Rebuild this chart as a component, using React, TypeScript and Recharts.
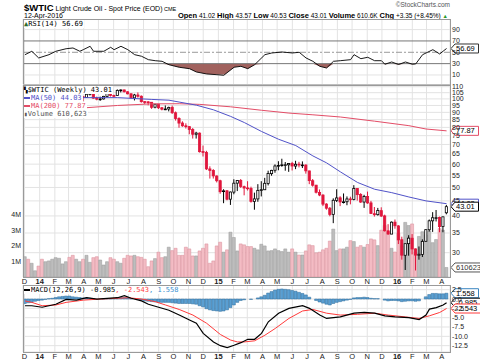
import React from "react";
import {
  Area,
  Bar,
  CartesianGrid,
  Cell,
  ComposedChart,
  Line,
  ReferenceLine,
  XAxis,
  YAxis,
} from "recharts";

// weekly bars, first bar = week of 2 Dec 2013, last = week of 11 Apr 2016
const firstWeek = "2013-12-02";

const opens = [
  92.7, 97.6, 96.6, 99.3, 100.3, 94.0, 92.7, 94.4, 96.6, 97.5,
  99.9, 100.3, 102.2, 102.6, 102.6, 98.9, 99.5, 101.7, 101.1, 103.7,
  104.3, 100.6, 99.8, 100.0, 102.0, 104.4, 102.7, 102.7, 106.9, 107.3,
  105.7, 104.1, 100.8, 103.1, 102.1, 97.9, 97.7, 97.4, 93.7, 96.0,
  93.3, 92.3, 92.4, 93.5, 89.7, 85.8, 82.8, 81.0, 80.5, 78.7,
  75.8, 76.5, 66.2, 65.8, 57.8, 57.1, 54.7, 52.7, 48.4, 48.7,
  45.6, 48.2, 51.7, 52.8, 50.3, 49.8, 49.6, 44.8, 45.7, 48.9,
  49.1, 51.6, 55.7, 57.2, 59.2, 59.4, 59.7, 59.7, 60.3, 59.1,
  60.0, 59.6, 59.6, 56.9, 52.7, 50.9, 48.1, 47.1, 43.9, 42.5,
  40.5, 45.2, 46.1, 44.6, 44.7, 45.7, 45.5, 49.6, 47.3, 44.6,
  46.6, 44.3, 40.7, 40.4, 41.7, 40.0, 35.6, 34.7, 38.1, 37.0,
  33.2, 29.4, 32.2, 33.6, 30.9, 29.4, 29.6, 32.8, 35.9, 38.5,
  39.4, 39.5, 36.8, 41.0,
];
const highs = [
  97.9, 98.6, 99.4, 100.7, 100.8, 94.5, 94.8, 97.8, 98.2, 100.0,
  101.0, 103.8, 103.2, 105.2, 102.9, 100.8, 102.0, 102.4, 104.0, 104.9,
  104.5, 101.8, 101.8, 102.4, 104.5, 104.4, 103.4, 107.7, 107.7, 107.5,
  106.2, 104.3, 104.0, 105.2, 102.8, 98.3, 98.3, 97.6, 96.1, 96.1,
  93.8, 95.0, 94.1, 94.9, 90.6, 86.6, 83.9, 82.6, 80.7, 79.6,
  77.3, 76.9, 69.4, 66.6, 59.0, 57.7, 54.9, 53.1, 49.3, 49.0,
  48.4, 53.3, 53.0, 53.4, 50.7, 52.5, 50.3, 48.0, 51.3, 52.5,
  53.9, 57.0, 57.4, 59.9, 61.4, 62.6, 61.0, 60.5, 61.1, 61.6,
  61.1, 61.3, 59.9, 57.0, 53.4, 51.0, 49.2, 47.4, 44.2, 42.9,
  45.9, 49.3, 46.7, 47.7, 46.6, 46.5, 50.9, 49.7, 47.8, 47.2,
  48.4, 45.0, 42.9, 42.6, 42.8, 40.4, 37.5, 38.3, 38.9, 37.2,
  34.0, 32.2, 34.4, 34.7, 31.0, 31.5, 33.3, 36.0, 38.9, 41.2,
  41.9, 39.8, 39.8, 43.6,
];
const lows = [
  92.3, 96.2, 95.8, 98.6, 93.6, 91.2, 91.5, 93.3, 96.0, 95.3,
  99.0, 100.1, 101.1, 101.5, 97.4, 97.9, 98.8, 98.2, 100.9, 102.7,
  100.1, 98.9, 98.5, 99.5, 101.3, 101.9, 101.6, 102.6, 105.2, 105.2,
  103.6, 100.2, 98.8, 101.0, 97.1, 96.1, 95.1, 92.5, 92.9, 92.4,
  91.4, 91.6, 90.7, 88.9, 84.4, 79.8, 80.4, 79.3, 75.8, 73.3,
  73.3, 65.7, 63.7, 57.3, 53.6, 53.6, 52.0, 47.6, 44.2, 45.2,
  43.6, 47.4, 48.6, 49.8, 47.0, 48.8, 44.4, 42.0, 44.7, 46.6,
  49.0, 50.8, 54.8, 56.1, 57.2, 58.8, 57.0, 56.5, 57.1, 57.7,
  58.5, 58.2, 55.7, 51.3, 50.3, 47.7, 46.7, 43.2, 42.0, 39.9,
  37.8, 44.6, 43.2, 44.1, 43.5, 43.8, 45.2, 45.1, 44.3, 42.6,
  44.0, 40.6, 39.8, 40.1, 39.7, 35.4, 34.5, 34.7, 36.2, 32.1,
  28.4, 26.2, 29.3, 29.6, 26.1, 28.4, 29.0, 32.7, 35.4, 35.3,
  38.3, 35.2, 35.2, 40.5,
];
const closes = [
  97.65, 96.6, 99.32, 100.32, 93.96, 92.72, 94.37, 96.64, 97.49, 99.88,
  100.3, 102.2, 102.59, 102.58, 98.89, 99.46, 101.67, 101.14, 103.74, 104.3,
  100.6, 99.76, 99.99, 102.02, 104.35, 102.71, 102.66, 106.91, 107.26, 105.74,
  104.06, 100.83, 103.13, 102.09, 97.88, 97.65, 97.35, 93.65, 95.96, 93.29,
  92.27, 92.41, 93.54, 89.74, 85.82, 82.75, 81.01, 80.54, 78.65, 75.82,
  76.51, 66.15, 65.84, 57.81, 57.13, 54.73, 52.69, 48.36, 48.69, 45.59,
  48.24, 51.69, 52.78, 50.34, 49.76, 49.61, 44.84, 45.72, 48.87, 49.14,
  51.64, 55.74, 57.15, 59.15, 59.39, 59.69, 59.72, 60.3, 59.13, 59.96,
  59.61, 59.63, 56.93, 52.74, 50.89, 48.14, 47.12, 43.87, 42.5, 40.45,
  45.22, 46.05, 44.63, 44.68, 45.7, 45.54, 49.63, 47.26, 44.6, 46.59,
  44.29, 40.74, 40.39, 41.71, 39.97, 35.62, 34.73, 38.1, 37.04, 33.16,
  29.42, 32.19, 33.62, 30.89, 29.44, 29.64, 32.78, 35.92, 38.5, 39.44,
  39.46, 36.79, 39.72, 43.01,
];
// volume in millions
const volumes = [
  1.3, 1.14, 0.88, 0.4, 0.7, 1.14, 0.98, 1.03, 1.14, 1.24,
  1.2, 0.84, 0.98, 1.26, 1.39, 1.14, 0.98, 1.14, 1.39, 0.94,
  1.24, 1.3, 1.09, 0.77, 0.98, 1.24, 1.14, 0.98, 0.88, 1.2,
  1.39, 1.35, 1.39, 1.3, 1.26, 1.14, 0.66, 1.03, 1.18, 1.59,
  1.24, 1.3, 1.91, 1.69, 1.84, 1.39, 1.39, 1.91, 1.8, 1.35,
  1.35, 1.67, 1.84, 2.12, 0.88, 1.03, 1.99, 2.23, 1.59, 1.74,
  2.87, 2.53, 1.67, 2.12, 2.06, 1.95, 1.95, 1.84, 1.74, 2.1,
  1.99, 1.67, 1.69, 1.8, 1.69, 1.63, 1.8, 1.59, 1.8, 1.59,
  1.41, 1.41, 1.67, 2.06, 2.01, 1.55, 1.59, 1.74, 1.84, 2.3,
  3.07, 1.69, 1.8, 1.8, 1.91, 2.33, 2.27, 1.91, 2.01, 1.91,
  2.08, 2.44, 2.38, 2.01, 3.0, 3.3, 2.9, 1.84, 1.6, 2.8,
  2.0, 3.5, 3.3, 3.4, 1.6, 2.6, 2.9, 2.7, 2.95, 2.2,
  2.4, 3.1, 3.0, 0.61,
];

const ma50Weeks = [14, 27, 37, 42, 50, 55, 60, 64, 69, 74, 79, 84, 88, 92, 97, 102, 107, 112, 117, 123];
const ma50Values = [101, 101, 99.6, 99, 95.2, 91.8, 87.2, 83.1, 77.5, 72.9, 69.4, 64, 60.6, 56.5, 52, 49.3, 48, 46.4, 45, 44.03];

const ma200Weeks = [10, 16, 27, 37, 45, 51, 60, 69, 77, 84, 92, 102, 112, 117, 123];
const ma200Values = [92, 93, 95, 96.2, 96.3, 95.8, 94, 91.5, 89.5, 88.3, 86.8, 84, 81.1, 79, 77.87];

const rsiWeeks = [
  0, 2, 4, 7, 9, 12, 14, 16, 17, 19, 20, 23, 25, 26, 28, 30, 32, 34, 36, 38,
  40, 42, 45, 48, 50, 53, 56, 58, 61, 63, 65, 67, 70, 72, 75, 78, 80, 82, 84, 86,
  88, 90, 92, 95, 96, 98, 100, 102, 104, 105, 107, 109, 111, 113, 114, 116, 119, 121, 122, 123,
];
const rsiValues = [
  45.8, 51.8, 40, 45.8, 51.8, 56.3, 57.6, 51.8, 54.6, 60.6, 51.8, 51.8, 58.8, 54.6, 60.6, 54.6, 45.8, 43, 37, 35.2,
  34.1, 28.1, 23.6, 21.1, 15.3, 11.8, 10.5, 9.5, 23.6, 25.3, 21.1, 28.1, 45.8, 48.8, 50.5, 48.8, 50, 40, 34.1, 25.3,
  22.3, 34.1, 35.2, 37, 45.8, 38.7, 41.2, 35.2, 35.2, 29, 32.9, 28.5, 32.9, 29, 29.5, 45.8, 54.6, 47, 52, 56.69,
];

const macdWeeks = [
  0, 2, 5, 9, 12, 15, 18, 21, 24, 27, 29, 31, 34, 36, 39, 42, 45, 48, 50, 52, 55, 57, 59, 61,
  63, 65, 67, 69, 71, 74, 77, 81, 83, 86, 88, 92, 96, 99, 102, 105, 108, 112, 115, 117, 118, 120, 122, 123,
];
const macdValues = [
  -1.8, -1.8, -2.2, -1.4, -0.1, -0.3, 0.35, 0, 0.2, 0.35, 0.9, 0.2, -0.5, -1.4, -2.2, -3, -4.3, -5.6, -6.5, -9.2, -11.5, -12.5, -13, -12.4,
  -11.7, -10.8, -10.8, -9.2, -6.1, -3.8, -2.5, -1.8, -2.5, -4.3, -5.2, -4.8, -3.8, -3.6, -3.8, -4.5, -4.8, -5.0, -5.5, -4.3, -2.7, -2.3, -1.6, -0.985,
];
const signalWeeks = [
  0, 2, 5, 9, 12, 17, 22, 27, 30, 34, 38, 41, 45, 49, 53, 57, 60, 62,
  64, 67, 70, 73, 77, 81, 84, 88, 92, 97, 102, 106, 111, 115, 118, 121, 123,
];
const signalValues = [
  -0.5, -0.9, -1.8, -1.6, -0.9, -0.3, 0, 0.2, 0.35, 0, -0.7, -1.6, -2.8, -4.3, -6.5, -9.5, -11, -11.5,
  -11.5, -11.2, -9.7, -7.9, -5.2, -3.2, -2.8, -3.8, -4.3, -4.1, -3.8, -4.3, -4.8, -5.2, -4.5, -3.6, -2.543,
];
const histValues = [
  -1.2, -1.0, -0.9, -0.6, -0.4, -0.3, -0.1, 0.1, 0.2, 0.4,
  0.6, 0.7, 0.8, 0.8, 0.6, 0.5, 0.4, 0.3, 0.3, 0.2,
  0.1, 0.0, 0.0, 0.1, 0.1, 0.1, 0.1, 0.3, 0.4, 0.4,
  0.3, 0.1, 0.0, -0.1, -0.3, -0.5, -0.6, -0.7, -0.8, -0.9,
  -0.9, -0.9, -0.9, -1.0, -1.1, -1.2, -1.2, -1.2, -1.2, -1.3,
  -1.4, -1.8, -2.1, -2.6, -2.9, -3.1, -3.2, -3.3, -3.2, -2.9,
  -2.3, -1.6, -0.9, -0.4, -0.2, 0.0, -0.1, 0.0, 0.3, 0.6,
  1.0, 1.6, 2.0, 2.4, 2.6, 2.7, 2.6, 2.5, 2.3, 2.1,
  1.8, 1.5, 1.1, 0.5, 0.0, -0.4, -0.8, -1.1, -1.4, -1.6,
  -1.2, -0.9, -0.7, -0.5, -0.3, -0.1, 0.3, 0.4, 0.4, 0.5,
  0.4, 0.2, 0.1, 0.1, 0.0, -0.3, -0.5, -0.4, -0.4, -0.5,
  -0.7, -0.6, -0.5, -0.5, -0.6, -0.5, 0.0, 0.6, 1.2, 1.5,
  1.5, 1.4, 1.4, 1.558,
];

const tickDates = [
  "2013-12-01", "2014-01-01", "2014-02-01", "2014-03-01", "2014-04-01", "2014-05-01", "2014-06-01",
  "2014-07-01", "2014-08-01", "2014-09-01", "2014-10-01", "2014-11-01", "2014-12-01", "2015-01-01",
  "2015-02-01", "2015-03-01", "2015-04-01", "2015-05-01", "2015-06-01", "2015-07-01", "2015-08-01",
  "2015-09-01", "2015-10-01", "2015-11-01", "2015-12-01", "2016-01-01", "2016-02-01", "2016-03-01",
  "2016-04-01",
];
const tickLabels = [
  "D", "14", "F", "M", "A", "M", "J", "J", "A", "S", "O", "N", "D", "15",
  "F", "M", "A", "M", "J", "J", "A", "S", "O", "N", "D", "16", "F", "M", "A",
];

const priceTicks = [30, 35, 40, 45, 50, 55, 60, 65, 70, 75, 80, 85, 90, 95, 100, 105, 110];
const volumeTicks = [1, 2, 3, 4];
const rsiTicks = [10, 30, 50, 70, 90];
const macdTicks = [2.5, 0, -2.5, -5, -7.5, -10, -12.5];

const FONT = "'Liberation Sans', Arial, sans-serif";
const MONO = "'DejaVu Sans Mono', monospace";
const RED = "#e0163c";
const GRID = "#e3e3e3";

const WEEK_MS = 7 * 24 * 3600 * 1000;
const weekOf = (d: string) => (Date.parse(d) - Date.parse(firstWeek)) / WEEK_MS;
const monthTicks = tickDates.map(weekOf);
const labelAt = new Map(monthTicks.map((t, k) => [t.toFixed(3), tickLabels[k]]));
const xDomain: [number, number] = [-0.58, 124];

type Row = Record<string, any>;
const rows: Row[] = closes.map((c, i) => ({
  i,
  o: opens[i],
  h: highs[i],
  l: lows[i],
  c,
  prev: i > 0 ? closes[i - 1] : opens[i],
  hl: [lows[i], highs[i]],
  vol: volumes[i],
  hist: histValues[i],
  ma50: null,
  ma200: null,
  rsi: null,
  macd: null,
  signal: null,
}));
const put = (key: string, weeks: number[], values: number[]) =>
  weeks.forEach((w, k) => {
    rows[w][key] = values[k];
  });
put("ma50", ma50Weeks, ma50Values);
put("ma200", ma200Weeks, ma200Values);
put("rsi", rsiWeeks, rsiValues);
put("macd", macdWeeks, macdValues);
put("signal", signalWeeks, signalValues);

function Candle(props: any) {
  const { x, width, payload } = props;
  let { y, height } = props;
  if (!payload || y == null || height == null) return null;
  if (height < 0) {
    y += height;
    height = -height;
  }
  const { o, h, l, c, prev } = payload;
  // log price scale: pixel position is linear in ln(price)
  const span = Math.log(h) - Math.log(l) || 1;
  const py = (v: number) => y + ((Math.log(h) - Math.log(v)) / span) * height;
  const color = c >= prev ? "#000" : RED;
  const top = py(Math.max(o, c));
  const bot = py(Math.min(o, c));
  const cx = x + width / 2;
  return (
    <g>
      <line x1={cx} x2={cx} y1={y} y2={y + height} stroke={color} strokeWidth={1} />
      <rect
        x={x + 0.4}
        y={top}
        width={width - 0.8}
        height={Math.max(bot - top, 0.8)}
        fill={c > o ? "#fff" : color}
        stroke={color}
        strokeWidth={0.8}
      />
    </g>
  );
}

function MonthTick(props: any) {
  const { x, y, payload } = props;
  const label = labelAt.get(Number(payload.value).toFixed(3)) ?? "";
  const year = /^\d+$/.test(label);
  return (
    <text x={x} y={y} dy={7} textAnchor="middle" fontSize={7.5} fontFamily={FONT} fontWeight={year ? 700 : 400} fill="#222">
      {label}
    </text>
  );
}

function Tag(props: any) {
  const { viewBox, text, color, textColor = "#000" } = props;
  if (!viewBox) return null;
  const x0 = viewBox.x + viewBox.width + 1;
  const cy = viewBox.y;
  const w = text.length * 3.9 + 4;
  const hh = 4.5;
  return (
    <g>
      <path
        d={`M${x0},${cy} L${x0 + 4},${cy - hh} L${x0 + 4 + w},${cy - hh} L${x0 + 4 + w},${cy + hh} L${x0 + 4},${cy + hh} Z`}
        fill="#fff"
        stroke={color}
        strokeWidth={1}
      />
      <text x={x0 + 5} y={cy} dy="0.35em" fontSize={7.5} fontFamily={FONT} fill={textColor}>
        {text}
      </text>
    </g>
  );
}

const axisTick = { fontSize: 7, fill: "#222", fontFamily: FONT };

function Legend({ top, children }: { top: number; children: React.ReactNode }) {
  return (
    <div
      style={{
        position: "absolute",
        left: 24,
        top,
        height: 8,
        lineHeight: "8px",
        fontSize: 7,
        fontFamily: MONO,
        background: "#fff",
        whiteSpace: "nowrap",
        paddingRight: 1,
      }}
    >
      {children}
    </div>
  );
}

const Dash = ({ color }: { color: string }) => (
  <span style={{ display: "inline-block", width: 6, height: 1.5, background: color, verticalAlign: "middle", marginRight: 1 }} />
);

function Frame({ top, height }: { top: number; height: number }) {
  return (
    <div
      style={{
        position: "absolute",
        left: 23,
        top,
        width: 428,
        height: height + 1,
        border: "1px solid #9a9a9a",
        boxSizing: "border-box",
        pointerEvents: "none",
      }}
    />
  );
}

export default function App() {
  return (
    <div style={{ position: "absolute", left: 0, top: 0, width: 480, height: 363, background: "#fff", overflow: "hidden", fontFamily: FONT }}>
      {/* header */}
      <div style={{ position: "absolute", left: 24, top: 0, whiteSpace: "nowrap", lineHeight: "12px", color: "#000" }}>
        <span style={{ fontSize: 9.5, fontWeight: 700 }}>$WTIC</span>
        <span style={{ fontSize: 7 }}> Light Crude Oil - Spot Price (EOD)</span>
        <span style={{ fontSize: 5.5 }}> CME</span>
      </div>
      <div style={{ position: "absolute", right: 30, top: 1, fontSize: 6.5, color: "#555", whiteSpace: "nowrap" }}>©StockCharts.com</div>
      <div style={{ position: "absolute", left: 24, top: 11, fontSize: 7, lineHeight: "9px" }}>12-Apr-2016</div>
      <div style={{ position: "absolute", right: 32, top: 11, fontSize: 6.5, lineHeight: "9px", whiteSpace: "nowrap" }}>
        <b style={{ fontSize: 7.5 }}>Open</b> 41.02 <b style={{ fontSize: 7.5 }}>High</b> 43.57 <b style={{ fontSize: 7.5 }}>Low</b> 40.53{" "}
        <b style={{ fontSize: 7.5 }}>Close</b> 43.01 <b style={{ fontSize: 7.5 }}>Volume</b> 610.6K <b style={{ fontSize: 7.5 }}>Chg</b> +3.35 (+8.45%){" "}
        <span style={{ color: "#2a9a2a", fontSize: 5.5 }}>▲</span>
      </div>

      {/* RSI panel */}
      <div style={{ position: "absolute", left: 0, top: 19 }}>
        <ComposedChart width={480} height={65} data={rows} margin={{ top: 0, right: 0, bottom: 0, left: 23 }}>
          <CartesianGrid stroke={GRID} horizontal={false} />
          <XAxis dataKey="i" type="number" domain={xDomain} ticks={monthTicks} interval={0} allowDataOverflow hide />
          <YAxis
            orientation="right"
            width={30}
            domain={[-5.9, 108.7]}
            ticks={rsiTicks}
            interval={0}
            tick={axisTick}
            tickSize={0}
            tickMargin={2}
            axisLine={false}
            tickLine={false}
            allowDataOverflow
          />
          <ReferenceLine y={90} stroke={GRID} />
          <ReferenceLine y={10} stroke={GRID} />
          <Area
            dataKey={(r: Row) => (r.rsi == null ? null : [Math.min(r.rsi, 30), 30])}
            fill="#9c5a55"
            fillOpacity={0.95}
            stroke="none"
            connectNulls
            isAnimationActive={false}
          />
          <ReferenceLine y={70} stroke="#777" />
          <ReferenceLine y={30} stroke="#777" />
          <ReferenceLine y={50} stroke="#999" strokeDasharray="6 2 2 2" />
          <Line dataKey="rsi" stroke="#000" strokeWidth={0.9} dot={false} connectNulls isAnimationActive={false} />
          <ReferenceLine y={56.69} stroke="none" label={<Tag text="56.69" color="#333" />} />
        </ComposedChart>
      </div>
      <Frame top={19} height={65} />
      <Legend top={20}>
        <span style={{ color: "#2d6b2d" }}>▲</span>RSI(14) 56.69
      </Legend>

      {/* price + volume panel (5px top margin keeps the 110 label inside the svg) */}
      <div style={{ position: "absolute", left: 0, top: 80 }}>
        <ComposedChart width={480} height={207} data={rows} margin={{ top: 5, right: 0, bottom: 0, left: 0 }}>
          <CartesianGrid stroke={GRID} />
          <XAxis
            dataKey="i"
            type="number"
            domain={xDomain}
            ticks={monthTicks}
            interval={0}
            allowDataOverflow
            height={10}
            tickSize={0}
            tickMargin={0}
            axisLine={false}
            tickLine={false}
            tick={(p: any) => <MonthTick {...p} />}
          />
          <XAxis xAxisId="vx" dataKey="i" type="number" domain={xDomain} allowDataOverflow hide />
          <YAxis
            orientation="right"
            width={30}
            scale="log"
            domain={[24.8, 111.5]}
            ticks={priceTicks}
            interval={0}
            tick={axisTick}
            tickSize={0}
            tickMargin={2}
            axisLine={false}
            tickLine={false}
            allowDataOverflow
          />
          <YAxis
            yAxisId="vol"
            orientation="left"
            width={23}
            domain={[0, 12.3]}
            ticks={volumeTicks}
            interval={0}
            tick={axisTick}
            tickFormatter={(v: number) => `${v}M`}
            tickSize={0}
            tickMargin={2}
            axisLine={false}
            tickLine={false}
            allowDataOverflow
          />
          <Bar dataKey="vol" xAxisId="vx" yAxisId="vol" barSize={3} isAnimationActive={false}>
            {rows.map((r) => (
              <Cell
                key={r.i}
                fill={r.c >= r.prev ? "#bdbdbd" : "#f3bcc4"}
                stroke={r.c >= r.prev ? "#999" : "#d98d99"}
                strokeWidth={0.5}
              />
            ))}
          </Bar>
          <Line dataKey="ma200" stroke="#e34d67" strokeWidth={1} dot={false} connectNulls isAnimationActive={false} />
          <Line dataKey="ma50" stroke="#5052c8" strokeWidth={1} dot={false} connectNulls isAnimationActive={false} />
          <Bar dataKey="hl" barSize={3} isAnimationActive={false} shape={(p: any) => <Candle {...p} />} />
          <ReferenceLine y={77.87} stroke="none" label={<Tag text="77.87" color="#e34d67" />} />
          <ReferenceLine y={44.03} stroke="none" label={<Tag text="44.03" color="#5052c8" />} />
          <ReferenceLine y={43.01} stroke="none" label={<Tag text="43.01" color="#000" />} />
          <ReferenceLine yAxisId="vol" y={0.61} stroke="none" label={<Tag text="610623" color="#555" textColor="#333" />} />
        </ComposedChart>
      </div>
      <Frame top={85} height={192} />
      <Legend top={86}>
        <span style={{ fontSize: 6 }}>▚</span>$WTIC (Weekly) 43.01
      </Legend>
      <Legend top={94}>
        <span style={{ color: "#5052c8" }}>
          <Dash color="#5052c8" />
          MA(50) 44.03
        </span>
      </Legend>
      <Legend top={102}>
        <span style={{ color: "#e34d67" }}>
          <Dash color="#e34d67" />
          MA(200) 77.87
        </span>
      </Legend>
      <Legend top={110}>
        <span style={{ color: "#555" }}>
          <span style={{ fontSize: 6 }}>▮</span>Volume 610,623
        </span>
      </Legend>

      {/* MACD panel */}
      <div style={{ position: "absolute", left: 0, top: 285 }}>
        <ComposedChart width={480} height={77} data={rows} margin={{ top: 0, right: 0, bottom: 0, left: 23 }}>
          <CartesianGrid stroke={GRID} />
          <XAxis
            dataKey="i"
            type="number"
            domain={xDomain}
            ticks={monthTicks}
            interval={0}
            allowDataOverflow
            height={10}
            tickSize={0}
            tickMargin={0}
            axisLine={false}
            tickLine={false}
            tick={(p: any) => <MonthTick {...p} />}
          />
          <YAxis
            orientation="right"
            width={30}
            domain={[-14.2, 3.76]}
            ticks={macdTicks}
            interval={0}
            tick={axisTick}
            tickFormatter={(v: number) => v.toFixed(1)}
            tickSize={0}
            tickMargin={2}
            axisLine={false}
            tickLine={false}
            allowDataOverflow
          />
          <Bar dataKey="hist" barSize={3} fill="#5a9fd2" stroke="#2b6a9a" strokeWidth={0.5} isAnimationActive={false} />
          <Line dataKey="signal" stroke="#ff3b3b" strokeWidth={1} dot={false} connectNulls isAnimationActive={false} />
          <Line dataKey="macd" stroke="#000" strokeWidth={1.2} dot={false} connectNulls isAnimationActive={false} />
          <ReferenceLine y={1.558} stroke="none" label={<Tag text="1.558" color="#3a86c0" />} />
          <ReferenceLine y={-0.985} stroke="none" label={<Tag text="-0.985" color="#000" />} />
          <ReferenceLine y={-2.543} stroke="none" label={<Tag text="-2.543" color="#ff3b3b" />} />
        </ComposedChart>
      </div>
      <Frame top={285} height={67} />
      <Legend top={286}>
        <Dash color="#000" />
        MACD(12,26,9) -0.985<span style={{ color: "#ff3b3b" }}>, -2.543</span>
        <span style={{ color: "#3a8fd0" }}>, 1.558</span>
      </Legend>
    </div>
  );
}
